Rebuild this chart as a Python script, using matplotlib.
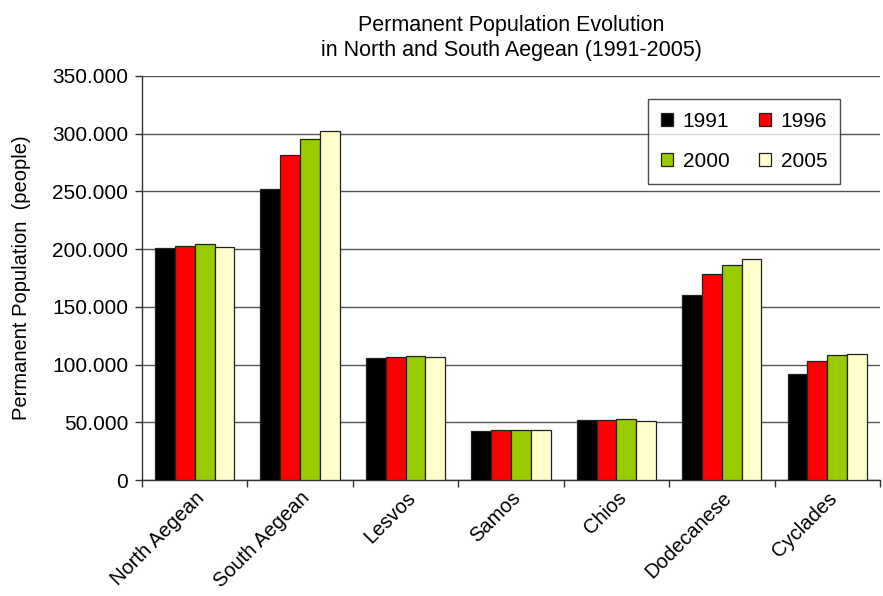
import matplotlib
matplotlib.use("Agg")
import matplotlib.pyplot as plt
from matplotlib.ticker import FuncFormatter, FixedLocator
import numpy as np

plt.rcParams['font.family'] = ['Liberation Sans', 'DejaVu Sans']

regions = ["North Aegean", "South Aegean", "Lesvos", "Samos", "Chios", "Dodecanese", "Cyclades"]
years = ["1991", "1996", "2000", "2005"]
pop_1991 = [200600, 252400, 105800, 42400, 52300, 160100, 91900]
pop_1996 = [202700, 281700, 106500, 43000, 52300, 178300, 103000]
pop_2000 = [204400, 295000, 107300, 43600, 52600, 186100, 108200]
pop_2005 = [201400, 302200, 106500, 43000, 51400, 191600, 109300]
series = [pop_1991, pop_1996, pop_2000, pop_2005]
colors = ["#000000", "#ff0000", "#99cc00", "#ffffcc"]

fig = plt.figure(figsize=(8.83, 5.96), dpi=100)
ax = fig.add_axes([0.1608, 0.1946, 0.8358, 0.678])

x = np.arange(len(regions))
bw = 0.188
bars = []
for i, (vals, c) in enumerate(zip(series, colors)):
    b = ax.bar(x + (i - 1.5) * bw, vals, width=bw, color=c, edgecolor="#222222",
               linewidth=0.9, label=years[i], zorder=3)
    bars.append(b)

ax.set_xlim(-0.5, len(regions) - 0.5)
ax.set_ylim(0, 350000)
ax.set_yticks(np.arange(0, 350001, 50000))

def fmt(v, pos):
    v = int(round(v))
    return "0" if v == 0 else f"{v:,}".replace(",", ".")
ax.yaxis.set_major_formatter(FuncFormatter(fmt))
ax.yaxis.grid(True, color="#555555", linewidth=1.0, zorder=0)
ax.set_axisbelow(True)

ax.set_xticks(x)
ax.set_xticklabels(regions, rotation=45, ha="right", va="top", rotation_mode="anchor")
ax.xaxis.set_minor_locator(FixedLocator(np.arange(-0.5, len(regions), 1.0)))
ax.tick_params(axis="x", which="major", length=0, labelsize=14.5, pad=6)
ax.tick_params(axis="x", which="minor", length=5, width=1, color="#333333")
ax.tick_params(axis="y", length=5, width=1, color="#333333", labelsize=15, pad=5)

for s in ["top", "right"]:
    ax.spines[s].set_visible(False)
for s in ["left", "bottom"]:
    ax.spines[s].set_color("#333333")
    ax.spines[s].set_linewidth(1.0)

ax.set_ylabel("Permanent Population  (people)", fontsize=14.5, labelpad=15)
ax.set_title("Permanent Population Evolution\nin North and South Aegean (1991-2005)",
             fontsize=15.5, pad=14, linespacing=1.25)

# two rows: 1991 1996 / 2000 2005
order = [0, 2, 1, 3]
leg = ax.legend([bars[k] for k in order], [years[k] for k in order],
                ncol=2, loc="upper left", bbox_to_anchor=(0.6856, 0.943),
                borderaxespad=0, fontsize=15, frameon=True, fancybox=False,
                edgecolor="#222222", handlelength=0.6, handleheight=0.6,
                columnspacing=1.4, labelspacing=1.0, borderpad=0.62,
                handletextpad=0.45)
leg.get_frame().set_linewidth(1.0)

fig.savefig("out.png", dpi=100, facecolor="white")
